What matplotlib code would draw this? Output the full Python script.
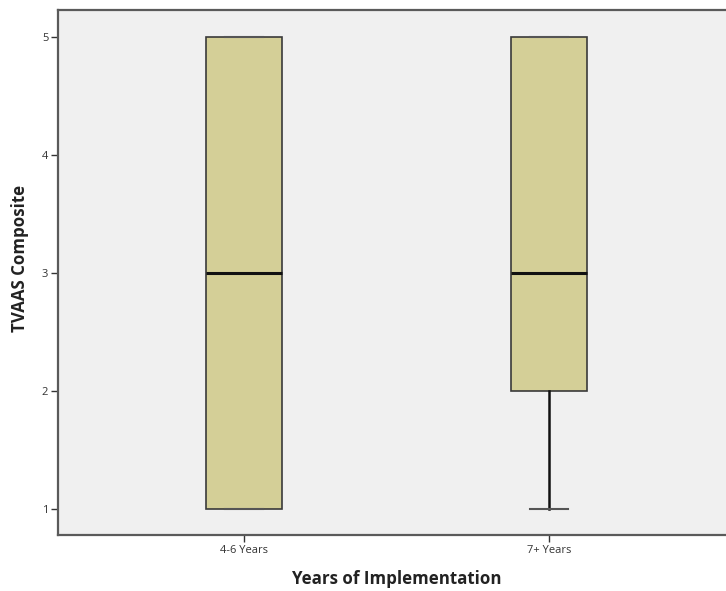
import matplotlib
matplotlib.use("Agg")
import matplotlib.pyplot as plt

categories = ["4-6 Years", "7+ Years"]
q1 = [1, 2]
median = [3, 3]
q3 = [5, 5]
whisker_low = [1, 1]
whisker_high = [5, 5]
y_ticks = [1, 2, 3, 4, 5]

plt.rcParams['font.family'] = ['Open Sans', 'DejaVu Sans']

fig = plt.figure(figsize=(7.26, 5.91), dpi=100)
ax = fig.add_axes([58/726, 56/591, 1 - 58/726, (535-10)/591])
ax.set_facecolor('#f0f0f0')

stats = []
for i, c in enumerate(categories):
    stats.append(dict(label=c, q1=q1[i], med=median[i], q3=q3[i],
                      whislo=whisker_low[i], whishi=whisker_high[i], fliers=[]))

positions = list(range(len(categories)))
ax.bxp(stats, positions=positions, widths=0.25, patch_artist=True, showfliers=False,
       boxprops=dict(facecolor='#d4cf97', edgecolor='#3a3a3a', linewidth=1.2),
       medianprops=dict(color='#111111', linewidth=2.2),
       whiskerprops=dict(color='#111111', linewidth=1.8),
       capprops=dict(color='#555555', linewidth=1.5),
       capwidths=0.125)

ax.set_xlim(-186/305, (726-244)/305)
ax.set_ylim(1 - 26/118, 5 + 27/118)
ax.set_yticks(y_ticks)
ax.set_yticklabels([str(v) for v in y_ticks])
ax.set_xticks(positions)
ax.set_xticklabels(categories)

for s in ['left', 'bottom', 'top']:
    ax.spines[s].set_color('#5a5a5a')
    ax.spines[s].set_linewidth(1.6)
ax.spines['right'].set_visible(False)

ax.tick_params(axis='both', labelsize=8, colors='#333333', length=5, width=1, direction='out')
ax.tick_params(axis='y', pad=2)
ax.tick_params(axis='x', pad=2)

ax.set_ylabel('TVAAS Composite', fontsize=12.2, fontweight='bold', color='#222222')
ax.set_xlabel('Years of Implementation', fontsize=12.2, fontweight='bold', color='#222222')
ax.xaxis.set_label_coords((397-58)/(726-58), -(570-535)/525)
ax.yaxis.set_label_coords(-(58-29)/(726-58), (535-258)/525)

fig.savefig('out.png', dpi=100)
